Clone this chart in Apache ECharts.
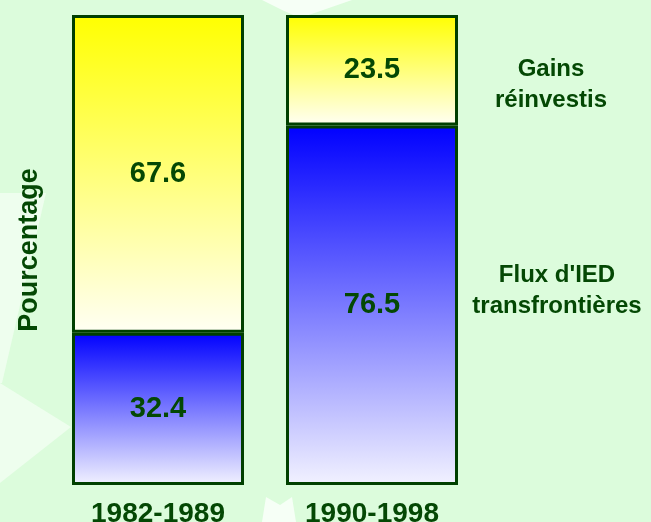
<!DOCTYPE html>
<html>
<head>
<meta charset="utf-8">
<style>
  html, body { margin: 0; padding: 0; background: #dcfcdc; }
  #chart { width: 651px; height: 522px; }
</style>
<script src="https://cdn.jsdelivr.net/npm/echarts@6/dist/echarts.min.js"></script>
</head>
<body>
<div id="chart"></div>
<script>
// données du graphique
var periodes = ["1982-1989", "1990-1998"];
var fluxIED = [32.4, 76.5];
var gainsReinvestis = [67.6, 23.5];
var nomsSeries = ["Flux d'IED\ntransfrontières", "Gains\nréinvestis"];

(function(){
    var vert = "#044804";
    var myChart = echarts.init(document.getElementById("chart"));

    function degrade(haut, bas){
        return new echarts.graphic.LinearGradient(0, 0, 0, 1, [
            { offset: 0, color: haut },
            { offset: 1, color: bas }
        ]);
    }

    var etiquette = {
        show: true,
        position: "inside",
        color: vert,
        fontFamily: "Liberation Sans",
        fontWeight: "bold",
        fontSize: 29
    };

    // feuille d'érable pâle en fond (décor)
    function decor(points, couleur){
        return {
            type: "polygon",
            z: -10,
            silent: true,
            shape: { points: points },
            style: { fill: couleur }
        };
    }

    var option = {
        backgroundColor: "#dcfcdc",
        animation: false,
        grid: {
          top: 15,
          bottom: 37,
          left: 51,
          right: 172,
          outerBoundsMode: "none"
        },
        xAxis: {
          type: 'category',
          data: periodes,
          axisLine: { show: false },
          axisTick: { show: false },
          axisLabel: {
            color: vert,
            fontFamily: "Liberation Sans",
            fontWeight: "bold",
            fontSize: 28,
            margin: 15
          }
        },
        yAxis: {
          type: 'value',
          min: 0,
          max: 100,
          name: "Pourcentage",
          nameLocation: "middle",
          nameRotate: 90,
          nameGap: 8,
          nameTextStyle: {
            color: vert,
            fontFamily: "Liberation Sans",
            fontWeight: "bold",
            fontSize: 27
          },
          axisLine: { show: false },
          axisTick: { show: false },
          axisLabel: { show: false },
          splitLine: { show: false }
        },
        series: [
          {
            name: nomsSeries[0],
            type: 'bar',
            stack: "total",
            barWidth: 172,
            data: fluxIED,
            label: etiquette,
            itemStyle: {
              color: degrade("#0000ff", "#f2f2ff"),
              borderColor: "#004000",
              borderWidth: 3
            }
          },
          {
            name: nomsSeries[1],
            type: 'bar',
            stack: "total",
            barWidth: 172,
            data: gainsReinvestis,
            label: etiquette,
            itemStyle: {
              color: degrade("#ffff00", "#fffff4"),
              borderColor: "#004000",
              borderWidth: 3
            }
          }
        ],
        graphic: [
          decor([[0, 193], [46, 193], [2, 383], [0, 383]], "#eefeee"),
          decor([[0, 383], [71, 427], [0, 483]], "#eefeee"),
          decor([[262, 0], [352, 0], [300, 18], [282, 10]], "#f6fff6"),
          decor([[262, 522], [266, 497], [280, 505], [292, 497], [296, 522]], "#f6fff6"),
          // légende écrite à droite des barres
          {
            type: "text",
            x: 551, y: 54,
            style: {
              text: nomsSeries[1],
              textAlign: "center",
              fill: vert,
              font: "bold 24px 'Liberation Sans'",
              lineHeight: 31
            }
          },
          {
            type: "text",
            x: 557, y: 260,
            style: {
              text: nomsSeries[0],
              textAlign: "center",
              fill: vert,
              font: "bold 24px 'Liberation Sans'",
              lineHeight: 31
            }
          }
        ]
    };

    myChart.setOption(option);

    window.addEventListener('resize', function(){
        myChart.resize();
    });
})();
</script>
</body>
</html>
